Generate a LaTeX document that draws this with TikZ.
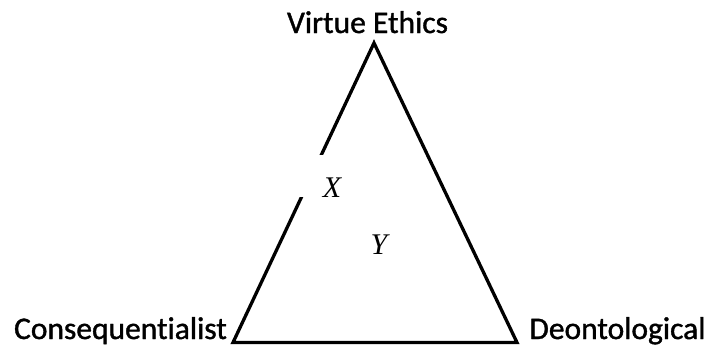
\documentclass[tikz,border=0pt]{standalone}
\usepackage{fontspec}
\setmainfont{Carlito}
\newfontfamily\lblfont[FakeBold=1.2,Ligatures=NoCommon]{Carlito}
\newfontfamily\tnr{Liberation Serif}
\begin{document}
\begin{tikzpicture}[x=1pt,y=-1pt,
  lbl/.style={font=\lblfont\fontsize{31.5}{37}\selectfont, inner sep=0pt, anchor=base},
  var/.style={font=\tnr\itshape\fontsize{30}{34}\selectfont, inner sep=0pt, anchor=base}]
\useasboundingbox (0,0) rectangle (708,346);
\coordinate (A) at (374,43);
\coordinate (B) at (233,342.5);
\coordinate (C) at (517,342.5);
\draw[line width=3.3pt, line join=miter] (A) -- (B) -- (C) -- cycle;
\fill[white] (296,155) rectangle (345,197);
\node[var] (X) at (332,197) {X};
\node[var] (Y) at (379,254) {Y};
\node[lbl] (ve) at (367.5,33) {Virtue Ethics};
\node[lbl] (co) at (120.5,339) {Consequent\kern0pt ialist};
\node[lbl] (de) at (617.5,339) {Deontological};
\end{tikzpicture}
\end{document}
